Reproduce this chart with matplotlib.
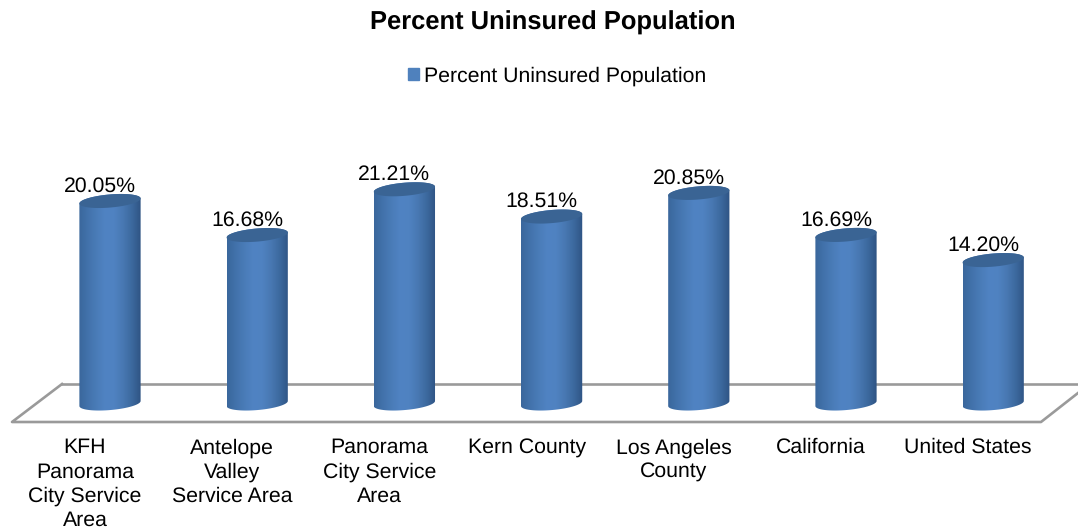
import numpy as np
import matplotlib
matplotlib.use("Agg")
import matplotlib.pyplot as plt
from matplotlib.colors import LinearSegmentedColormap
from matplotlib.patches import Patch, PathPatch
from matplotlib.path import Path

categories = ["KFH\nPanorama\nCity Service\nArea", "Antelope\nValley\nService Area",
              "Panorama\nCity Service\nArea", "Kern County", "Los Angeles\nCounty",
              "California", "United States"]
values = [20.05, 16.68, 21.21, 18.51, 20.85, 16.69, 14.20]
series_name = "Percent Uninsured Population"

W, H = 1078, 529
PX_X = 147.2   # px per category
PX_Y = 10.1    # px per percent
X0 = 110
Y0 = 403.5

plt.rcParams["font.family"] = ["Liberation Sans", "DejaVu Sans"]
plt.rcParams["text.hinting"] = "no_hinting"

side_cmap = LinearSegmentedColormap.from_list(
    "side", ["#3a679c", "#4272ab", "#4a7cb8", "#5083c3", "#4f82c1", "#4878b2", "#3c699e", "#2f5484"])


def cylinder(ax, x, val, half=0.208, ry=0.65, tilt=0.25):
    # sides are gradient clipped by the outline, top is a darker ellipse
    t = np.linspace(0, np.pi, 60)
    dx = half * np.cos(t)
    # tilt in data units so the ellipse leans up to the right
    top_up = val + ry * np.sin(t) + tilt * dx / half
    top_lo = val - ry * np.sin(t) + tilt * dx / half
    base_lo = -ry * np.sin(t) + tilt * dx / half

    xs = np.r_[x + dx, (x + dx)[::-1]]
    ys = np.r_[top_up, base_lo[::-1]]
    outline = Path(np.column_stack([xs, ys]))
    clip = PathPatch(outline, fc="none", ec="none", transform=ax.transData)
    ax.add_patch(clip)
    grad = np.linspace(0, 1, 128).reshape(1, -1)
    im = ax.imshow(grad, cmap=side_cmap, aspect="auto", zorder=3,
                   extent=(x - half, x + half, -2, val + 2))
    im.set_clip_path(clip)

    ex = np.r_[x + dx, (x + dx)[::-1]]
    ey = np.r_[top_up, top_lo[::-1]]
    ax.fill(ex, ey, color="#3a6494", lw=0, zorder=4)


fig = plt.figure(figsize=(W / 100, H / 100), dpi=100)
ax = fig.add_axes([0, 0, 1, 1])
ax.axis("off")


# floor and text blocks placed in axes fraction from pixel positions
def fx(px):
    return px / W


def fy(py):
    return 1 - py / H


floor_c = "#9a9a9a"
ax.plot([fx(62), fx(1078)], [fy(384), fy(384)], color=floor_c, lw=1.9,
        transform=ax.transAxes, zorder=1, clip_on=False)
ax.plot([fx(62), fx(12), fx(1041), fx(1078)], [fy(384), fy(422), fy(422), fy(393)],
        color=floor_c, lw=1.9, transform=ax.transAxes, zorder=1)

for i, v in enumerate(values):
    cylinder(ax, i, v)
    ax.annotate("%.2f%%" % v, (i, v), xytext=(-10, 5), textcoords="offset pixels",
                ha="center", va="bottom", fontsize=15.3, color="black", zorder=5)
    ax.annotate(categories[i], (i, fy(438)), xytext=(-25, 0), textcoords="offset pixels",
                xycoords=("data", "axes fraction"), ha="center", va="top",
                fontsize=15.3, color="black", linespacing=1.3, annotation_clip=False)

ax.text(fx(553), fy(23), series_name, ha="center", va="center",
        fontsize=18.4, fontweight="bold", transform=ax.transAxes)

ax.legend(handles=[Patch(color="#4f81bd", label=series_name)], loc="center",
          bbox_to_anchor=(fx(557), fy(76)), frameon=False, fontsize=15.3,
          handlelength=0.52, handleheight=0.52, handletextpad=0.24, borderpad=0)

ax.set_xlim(-X0 / PX_X, (W - X0) / PX_X)
ax.set_ylim(-(H - Y0) / PX_Y, Y0 / PX_Y)

fig.savefig("out.png", dpi=100)
